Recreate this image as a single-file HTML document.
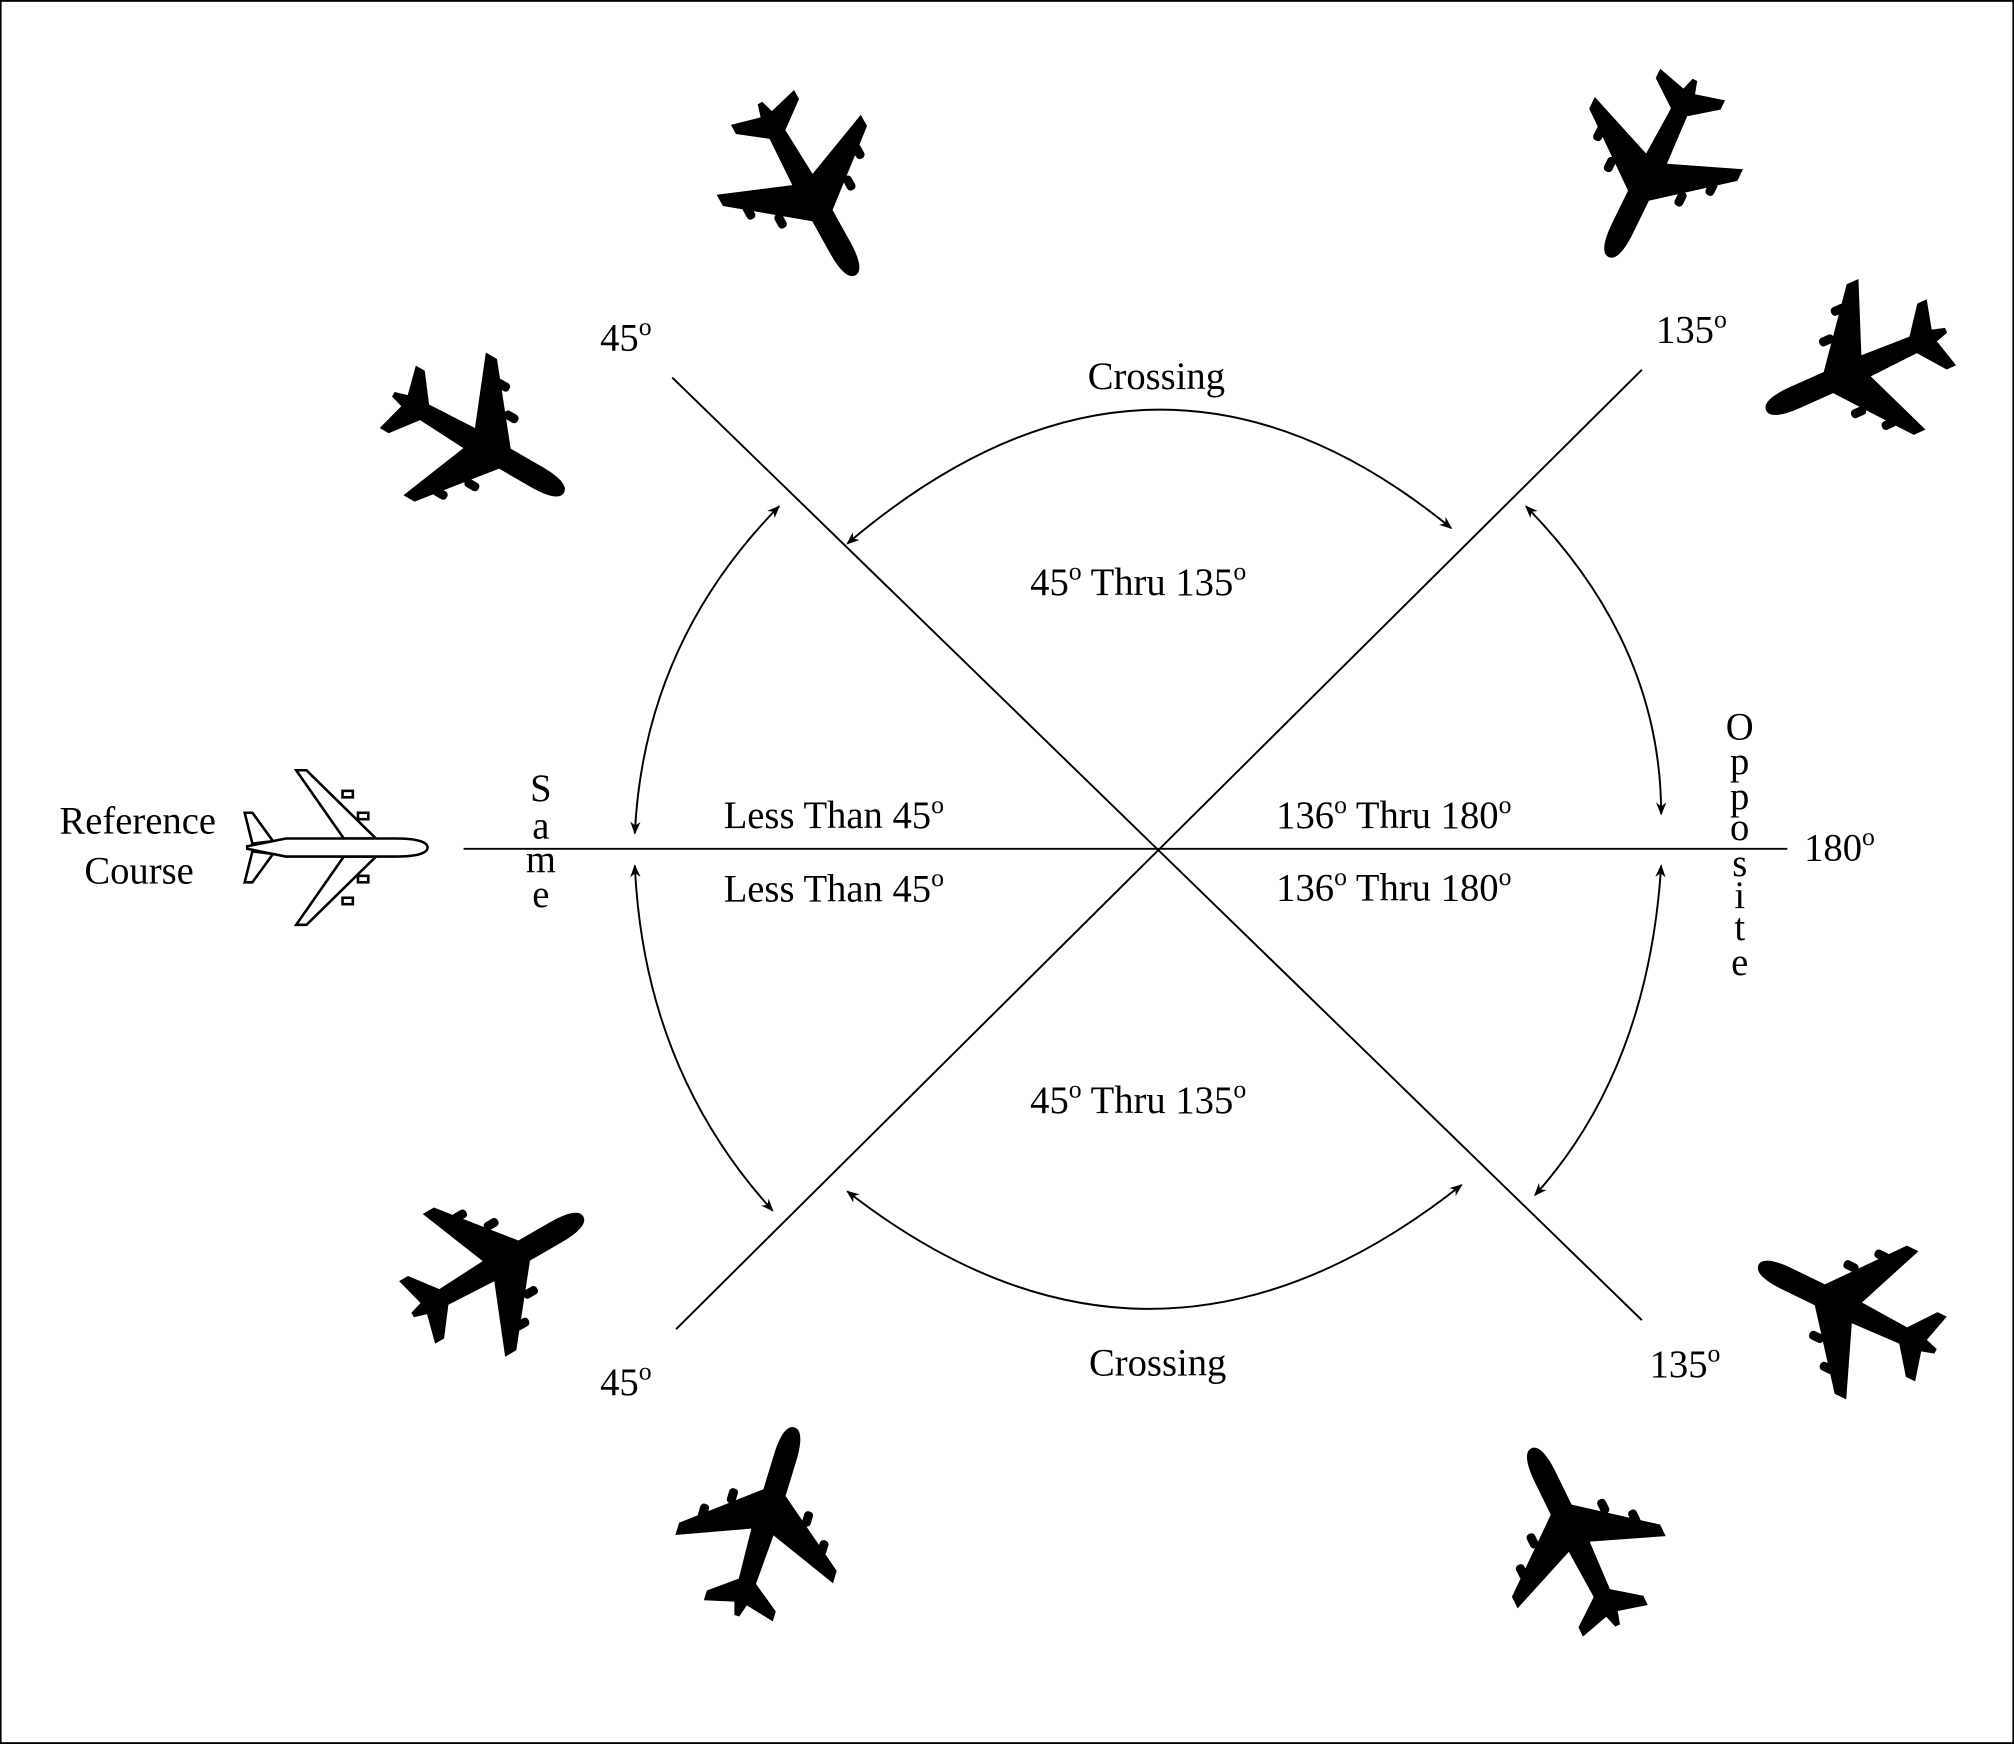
<!DOCTYPE html>
<html><head><style>html,body{margin:0;padding:0;background:#fff}svg{display:block}</style></head>
<body>
<svg width="2014" height="1744" viewBox="0 0 1564 1354" xmlns="http://www.w3.org/2000/svg" font-family="'Liberation Serif',serif">
<defs>
<g id="pl">
<path d="M75,0 C75,-6 66,-9 50,-9 L22,-9 L-22,-64 L-32,-64 L-10,-9 L-50,-7 L-66,-28 L-74,-28 L-68,-5 L-78,-2 L-78,2 L-68,5 L-74,28 L-66,28 L-50,7 L-10,9 L-32,64 L-22,64 L22,9 L50,9 C66,9 75,6 75,0Z" fill="#000"/>
<rect x="4" y="-34" width="12" height="7" rx="3"/><rect x="-14" y="-52" width="12" height="7" rx="3"/>
<rect x="4" y="27" width="12" height="7" rx="3"/><rect x="-14" y="45" width="12" height="7" rx="3"/>
</g>
<marker id="ah" markerWidth="10" markerHeight="10" refX="9" refY="5" orient="auto-start-reverse" markerUnits="userSpaceOnUse"><path d="M0,1 L10,5 L0,9 L3,5Z" fill="#000"/></marker>
</defs>
<rect x="0.5" y="0.5" width="1563" height="1353" fill="#fff" stroke="#000" stroke-width="1.5"/>
<g stroke="#000" stroke-width="1.5" fill="none">
<line x1="360" y1="659" x2="1388" y2="659"/>
<line x1="522" y1="293" x2="1275" y2="1025"/>
<line x1="1275" y1="287" x2="525" y2="1032"/>
<g marker-start="url(#ah)" marker-end="url(#ah)">
<path d="M658,422 Q895,220 1127,410"/>
<path d="M658,925 Q895,1110 1135,920"/>
<path d="M605,393 Q500,500 493,647"/>
<path d="M493,672 Q500,830 600,940"/>
<path d="M1185,393 Q1290,500 1290,632"/>
<path d="M1290,672 Q1280,830 1192,928"/>
</g>
</g>
<g fill="#000">
<use href="#pl" transform="translate(628,148) rotate(61)"/>
<use href="#pl" transform="translate(1282,132) rotate(116)"/>
<use href="#pl" transform="translate(1440,288) rotate(156)"/>
<use href="#pl" transform="translate(373,345) rotate(30)"/>
<use href="#pl" transform="translate(388,982) rotate(-30)"/>
<use href="#pl" transform="translate(595,1180) rotate(-73)"/>
<use href="#pl" transform="translate(1222,1192) rotate(-116)"/>
<use href="#pl" transform="translate(1433,1015) rotate(-154)"/>
</g>
<g transform="translate(262,658)" stroke="#000" stroke-width="2" fill="#fff">
<path d="M30,-7 L-24,-60 L-32,-60 L5,-7Z M30,7 L-24,60 L-32,60 L5,7Z"/>
<path d="M-50,-5 L-66,-27 L-72,-27 L-66,-3Z M-50,5 L-66,27 L-72,27 L-66,3Z"/>
<path d="M70,0 C70,-5 60,-7 45,-7 L-40,-7 L-70,-1 L-70,1 L-40,7 L45,7 C60,7 70,5 70,0Z"/>
<rect x="4" y="-44" width="8" height="5"/><rect x="16" y="-27" width="8" height="5"/>
<rect x="4" y="39" width="8" height="5"/><rect x="16" y="22" width="8" height="5"/>
</g>
<g font-size="30" fill="#000">
<text x="107" y="647" text-anchor="middle">Reference</text>
<text x="108" y="686" text-anchor="middle">Course</text>
<text x="466" y="272">45<tspan font-size="20" dy="-12">o</tspan></text>
<text x="1286" y="266">135<tspan font-size="20" dy="-12">o</tspan></text>
<text x="466" y="1083">45<tspan font-size="20" dy="-12">o</tspan></text>
<text x="1281" y="1069">135<tspan font-size="20" dy="-12">o</tspan></text>
<text x="1401" y="668">180<tspan font-size="20" dy="-12">o</tspan></text>
<text x="898" y="302" text-anchor="middle">Crossing</text>
<text x="899" y="1068" text-anchor="middle">Crossing</text>
<text x="800" y="462">45<tspan font-size="20" dy="-12">o</tspan><tspan dy="12"> Thru 135</tspan><tspan font-size="20" dy="-12">o</tspan></text>
<text x="800" y="864">45<tspan font-size="20" dy="-12">o</tspan><tspan dy="12">  Thru 135</tspan><tspan font-size="20" dy="-12">o</tspan></text>
<text x="562" y="643">Less Than 45<tspan font-size="20" dy="-12">o</tspan></text>
<text x="562" y="700">Less Than 45<tspan font-size="20" dy="-12">o</tspan></text>
<text x="991" y="643">136<tspan font-size="20" dy="-12">o</tspan><tspan dy="12">  Thru 180</tspan><tspan font-size="20" dy="-12">o</tspan></text>
<text x="991" y="699">136<tspan font-size="20" dy="-12">o</tspan><tspan dy="12">  Thru 180</tspan><tspan font-size="20" dy="-12">o</tspan></text>
<g text-anchor="middle">
<text x="420" y="622">S</text><text x="420" y="651">a</text><text x="420" y="677">m</text><text x="420" y="704">e</text>
<text x="1351" y="574">O</text><text x="1351" y="601">p</text><text x="1351" y="628">p</text><text x="1351" y="652">o</text><text x="1351" y="680">s</text><text x="1351" y="705">i</text><text x="1351" y="730">t</text><text x="1351" y="757">e</text>
</g>
</g>
</svg>
</body></html>
